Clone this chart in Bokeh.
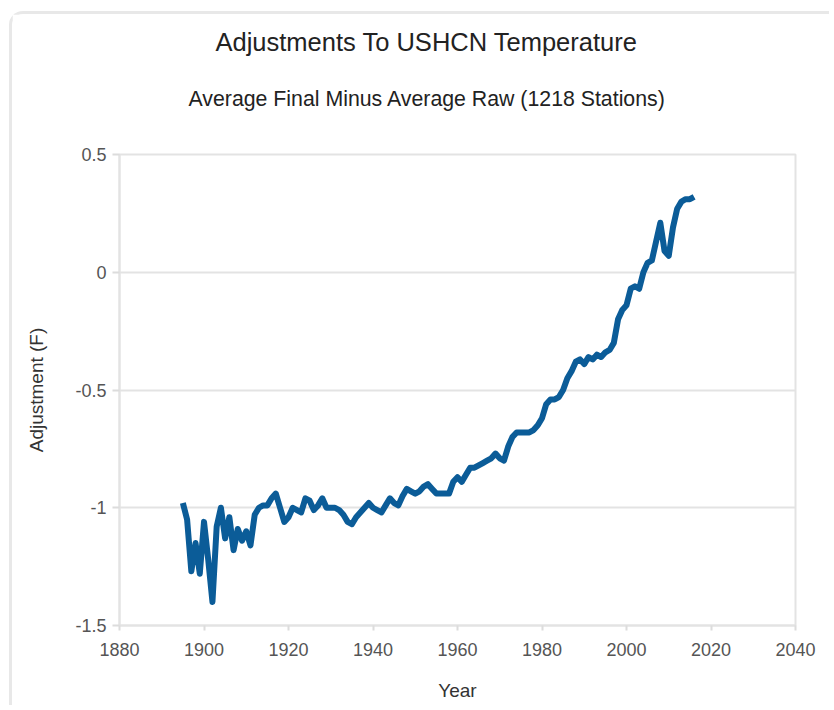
from bokeh.plotting import figure
from bokeh.models import Title, FixedTicker, ColumnDataSource
from bokeh.embed import file_html
from bokeh.resources import INLINE

title_text = "Adjustments To USHCN Temperature"
subtitle_text = "Average Final Minus Average Raw (1218 Stations)"
x_label = "Year"
y_label = "Adjustment (F)"

years = list(range(1895, 2017))
adjustment = [
    -0.98, -1.05, -1.27, -1.15, -1.28, -1.06, -1.22, -1.40, -1.08, -1.00,  # 1895-1904
    -1.13, -1.04, -1.18, -1.09, -1.14, -1.10, -1.16, -1.03, -1.00, -0.99,  # 1905-1914
    -0.99, -0.96, -0.94, -1.00, -1.06, -1.04, -1.00, -1.01, -1.02, -0.96,  # 1915-1924
    -0.97, -1.01, -0.99, -0.96, -1.00, -1.00, -1.00, -1.01, -1.03, -1.06,  # 1925-1934
    -1.07, -1.04, -1.02, -1.00, -0.98, -1.00, -1.01, -1.02, -0.99, -0.96,  # 1935-1944
    -0.98, -0.99, -0.95, -0.92, -0.93, -0.94, -0.93, -0.91, -0.90, -0.92,  # 1945-1954
    -0.94, -0.94, -0.94, -0.94, -0.89, -0.87, -0.89, -0.86, -0.83, -0.83,  # 1955-1964
    -0.82, -0.81, -0.80, -0.79, -0.77, -0.79, -0.80, -0.74, -0.70, -0.68,  # 1965-1974
    -0.68, -0.68, -0.68, -0.67, -0.65, -0.62, -0.56, -0.54, -0.54, -0.53,  # 1975-1984
    -0.50, -0.45, -0.42, -0.38, -0.37, -0.39, -0.36, -0.37, -0.35, -0.36,  # 1985-1994
    -0.34, -0.33, -0.30, -0.20, -0.16, -0.14, -0.07, -0.06, -0.07, 0.00,   # 1995-2004
    0.04, 0.05, 0.13, 0.21, 0.09, 0.07, 0.19, 0.27, 0.30, 0.31,            # 2005-2014
    0.31, 0.32,                                                            # 2015-2016
]

x_ticks = [1880, 1900, 1920, 1940, 1960, 1980, 2000, 2020, 2040]
y_ticks = [-1.5, -1.0, -0.5, 0.0, 0.5]
y_tick_labels = {-1.5: "-1.5", -1.0: "-1", -0.5: "-0.5", 0.0: "0", 0.5: "0.5"}

FONT = "Liberation Sans"

p = figure(
    width=820, height=694,
    x_range=(1880, 2040), y_range=(-1.5, 0.5),
    output_backend="svg", toolbar_location=None,
    min_border_left=107, min_border_right=37,
    min_border_top=140, min_border_bottom=83,
    background_fill_color="white", border_fill_color="white",
)
p.styles = {
    "margin-left": "9px",
    "margin-top": "11px",
    "border-top": "3px solid #e8e8e8",
    "border-left": "3px solid #e8e8e8",
    "border-top-left-radius": "14px",
}

src = ColumnDataSource(dict(x=years, y=adjustment))
p.line("x", "y", source=src, line_color="#0b5c98", line_width=6, line_join="round")

# frame / grid
p.outline_line_color = "#e3e3e3"
p.outline_line_width = 2
p.xgrid.grid_line_color = None
p.ygrid.ticker = FixedTicker(ticks=y_ticks)
p.ygrid.grid_line_color = "#e3e3e3"
p.ygrid.grid_line_width = 2

# axes
p.xaxis.ticker = FixedTicker(ticks=x_ticks)
p.yaxis.ticker = FixedTicker(ticks=y_ticks)
p.yaxis.major_label_overrides = y_tick_labels
for ax in (p.xaxis, p.yaxis):
    ax.axis_line_color = "#e3e3e3"
    ax.axis_line_width = 2
    ax.major_tick_line_color = "#dcdcdc"
    ax.major_tick_line_width = 2
    ax.minor_tick_line_color = None
    ax.major_tick_in = 0
    ax.major_label_text_font = FONT
    ax.major_label_text_font_size = "18px"
    ax.major_label_text_color = "#555555"
    ax.axis_label_text_font = FONT
    ax.axis_label_text_font_style = "normal"
    ax.axis_label_text_color = "#333333"

p.xaxis.major_tick_out = 5
p.xaxis.major_label_standoff = 12
p.xaxis.axis_label = x_label
p.xaxis.axis_label_text_font_size = "19px"
p.xaxis.axis_label_standoff = 21

p.yaxis.major_tick_out = 7
p.yaxis.major_label_standoff = 6
p.yaxis.axis_label = y_label
p.yaxis.axis_label_text_font_size = "19px"
p.yaxis.axis_label_standoff = 25

# titles: stacked outward from the plot frame (first added = closest)
p.add_layout(Title(text=" ", text_font_size="1px", standoff=40), "above")
p.add_layout(Title(text=subtitle_text, align="left", offset=69, text_font=FONT,
                   text_font_size="21.3px", text_font_style="normal",
                   text_color="#222222", standoff=2), "above")
p.add_layout(Title(text=" ", text_font_size="1px", standoff=23), "above")
p.add_layout(Title(text=title_text, align="left", offset=96, text_font=FONT,
                   text_font_size="25.5px", text_font_style="normal",
                   text_color="#222222", standoff=4), "above")

open("out.html", "w").write(file_html(p, INLINE))
